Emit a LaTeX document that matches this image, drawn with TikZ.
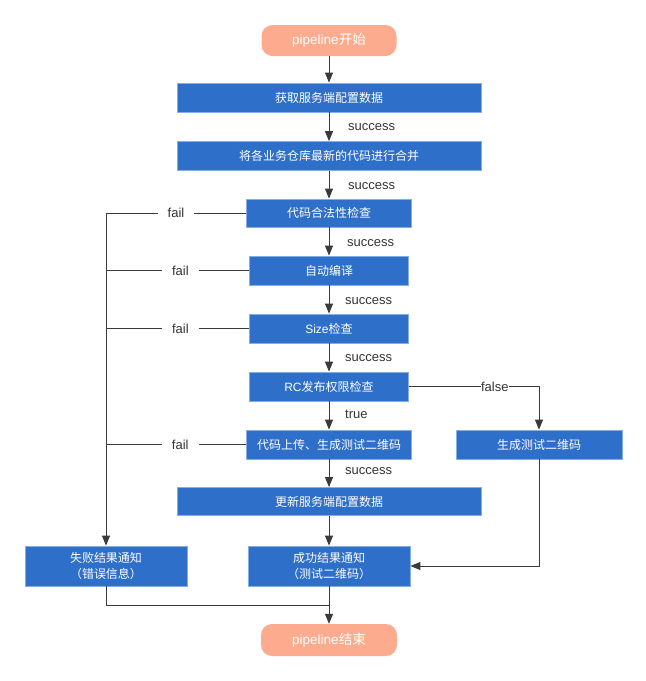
\documentclass[tikz,border=0pt]{standalone}
\usepackage{fontspec}
\setmainfont{Liberation Sans}
\newfontfamily\zhfont{Noto Sans CJK SC}
\newcommand\lat[1]{{\rmfamily #1}}
\usetikzlibrary{arrows.meta}
\definecolor{boxblue}{HTML}{2E6FC9}
\definecolor{boxedge}{HTML}{86AEE6}
\definecolor{salmon}{HTML}{FDAB8F}
\definecolor{linegray}{HTML}{3A3A3A}
\definecolor{labgray}{HTML}{333333}
\begin{document}
\begin{tikzpicture}[x=1pt,y=-1pt,
  proc/.style={draw=boxedge, line width=0.8pt, fill=boxblue, text=white,
    font=\zhfont\fontsize{12}{16}\selectfont, minimum width=#1,
    minimum height=29pt, inner sep=0pt, align=center},
  term/.style={fill=salmon, rounded corners=11pt, text=white,
    font=\zhfont\fontsize{13.5}{16}\selectfont, minimum width=135pt,
    minimum height=31pt, inner sep=0pt},
  conn/.style={draw=linegray, line width=1pt},
  arr/.style={conn, -{Triangle[length=10pt,width=8pt]}},
  lab/.style={font=\fontsize{13}{15}\selectfont, text=labgray, inner sep=0pt},
  faillab/.style={font=\fontsize{13}{15}\selectfont, text=labgray, fill=white,
    inner xsep=10pt, inner ysep=2pt}
]
\useasboundingbox (0,0) rectangle (646,681);

% nodes
\node[term] (start) at (329,40.5) {\lat{pipeline}开始};
\node[proc=304pt] (b1) at (329,97.5) {获取服务端配置数据};
\node[proc=304pt] (b2) at (329,156) {将各业务仓库最新的代码进行合并};
\node[proc=165pt, minimum height=28pt] (b3) at (329,213) {代码合法性检查};
\node[proc=159pt] (b4) at (329,270.5) {自动编译};
\node[proc=159pt] (b5) at (329,328.5) {\lat{Size}检查};
\node[proc=159pt] (b6) at (329,386.5) {\lat{RC}发布权限检查};
\node[proc=165pt] (b7) at (329,444.5) {代码上传、生成测试二维码};
\node[proc=166pt] (b8) at (539,444.5) {生成测试二维码};
\node[proc=304pt, minimum height=28pt] (b9) at (329,501.5) {更新服务端配置数据};
\node[proc=162pt, minimum height=40pt] (fail) at (106,566) {失败结果通知\\（错误信息）};
\node[proc=162pt, minimum height=40pt] (succ) at (329,566) {成功结果通知\\（测试二维码）};
\node[term, minimum width=136pt, minimum height=32pt] (end) at (329,640) {\lat{pipeline}结束};

% main flow
\draw[arr] (start) -- (b1);
\draw[arr] (b1) -- (b2);
\draw[arr] (b2) -- (b3);
\draw[arr] (b3) -- (b4);
\draw[arr] (b4) -- (b5);
\draw[arr] (b5) -- (b6);
\draw[arr] (b6) -- (b7);
\draw[arr] (b7) -- (b9);
\draw[arr] (b9) -- (succ);
\draw[arr] (succ) -- (end);

% flow labels
\node[lab, anchor=west] (s1) at (348,127) {success};
\node[lab, anchor=west] (s2) at (348,186) {success};
\node[lab, anchor=west] (s3) at (347,243) {success};
\node[lab, anchor=west] (s4) at (345,301) {success};
\node[lab, anchor=west] (s5) at (345,358) {success};
\node[lab, anchor=west] (t1) at (345,414) {true};
\node[lab, anchor=west] (s6) at (345,471) {success};

% fail branches
\coordinate (ftop) at (106,213);
\draw[conn] (b3.west) -- node[faillab] {fail} (ftop);
\draw[conn] (b4.west) -- node[faillab, pos=0.48] {fail} (b4.west -| ftop);
\draw[conn] (b5.west) -- node[faillab, pos=0.48] {fail} (b5.west -| ftop);
\draw[conn] (b7.west) -- node[faillab, pos=0.47] {fail} (b7.west -| ftop);
\draw[arr] (ftop) -- (fail.north);

% false branch
\draw[arr] (b6.east) -| node[lab, fill=white, inner sep=0.5pt, pos=0.33] {false} (b8.north);
\draw[arr] (b8.south) |- (succ.east);

% fail to end
\coordinate (join) at (329,605);
\draw[conn] (fail.south) |- (join);
\end{tikzpicture}
\end{document}
